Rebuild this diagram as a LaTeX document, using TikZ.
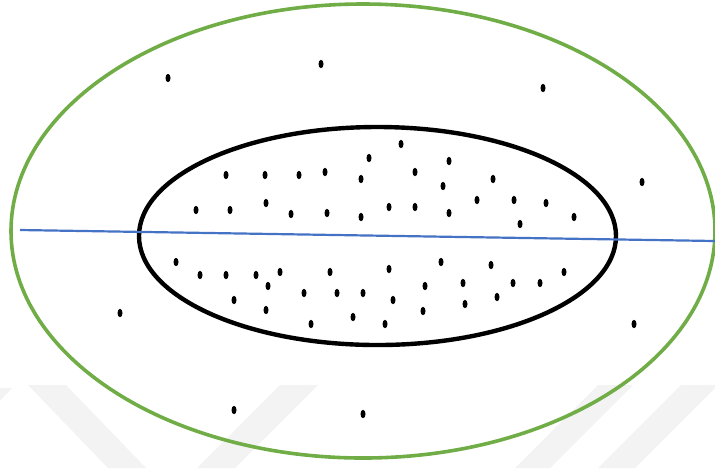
\documentclass[tikz,border=0pt]{standalone}
\usepackage{xcolor}
\usepackage{tikz}
\usetikzlibrary{shapes.geometric}
\definecolor{rindgreen}{HTML}{70AD47}
\definecolor{cutblue}{HTML}{4472C4}
\definecolor{markgray}{HTML}{F3F3F3}

\begin{document}
\begin{tikzpicture}[
    x=0.5pt, y=-0.5pt,
    zone/.style={draw, ellipse, inner sep=0pt},
    outerzone/.style={zone, draw=rindgreen, line width=1.8pt, minimum width=352pt, minimum height=227pt},
    innerzone/.style={zone, draw=black, line width=2.2pt, minimum width=238.5pt, minimum height=109pt},
    seed/.style={ellipse, fill=black, inner sep=0pt, minimum width=2.5pt, minimum height=4.2pt},
    cut/.style={draw=cutblue, line width=1.1pt},
    band/.style={fill=markgray, draw=none}
  ]
  \useasboundingbox (0,0) rectangle (715,468);
  \begin{scope}
    \clip (0,0) rectangle (715,468);
    \fill[band] (0,388) -- (12,388) -- (0,401) -- cycle;
    \fill[band] (28,385) -- (66,385) -- (146,468) -- (108,468) -- cycle;
    \fill[band] (197,468) -- (235,468) -- (318,385) -- (280,385) -- cycle;
    \fill[band] (515,468) -- (550,468) -- (633,385) -- (598,385) -- cycle;
    \fill[band] (598,468) -- (635,468) -- (718,385) -- (681,385) -- cycle;
  \end{scope}
  \node[outerzone] (rind) at (363,231) {};
  \node[innerzone] (core) at (377.5,236) {};
  \coordinate (cutW) at (20,230);
  \coordinate (cutE) at (715,241);
  \draw[cut] (cutW) -- (cutE);
  \foreach \x/\y [count=\i] in {168/78, 321/64, 543/88, 642/182, 120/313, 634/324, 234/410, 363/414}
    \node[seed] (out\i) at (\x,\y) {};
  \foreach \x/\y [count=\i] in {401/144, 369/158, 449/161, 226/175, 265/175, 299/175, 325/172, 361/179,
      415/172, 443/186, 493/179, 196/210, 230/210, 266/203, 291/214, 327/213, 361/217, 389/207,
      415/207, 449/213, 477/200, 514/200, 546/203, 520/224, 574/217}
    \node[seed] (up\i) at (\x,\y) {};
  \foreach \x/\y [count=\i] in {176/262, 200/275, 226/275, 256/275, 280/272, 268/286, 234/300, 304/293,
      330/272, 337/293, 363/293, 266/310, 311/324, 353/317, 389/269, 441/262, 491/265, 564/272,
      513/283, 540/283, 463/283, 425/286, 393/300, 465/304, 497/297, 423/311, 385/324}
    \node[seed] (low\i) at (\x,\y) {};
\end{tikzpicture}
\end{document}
